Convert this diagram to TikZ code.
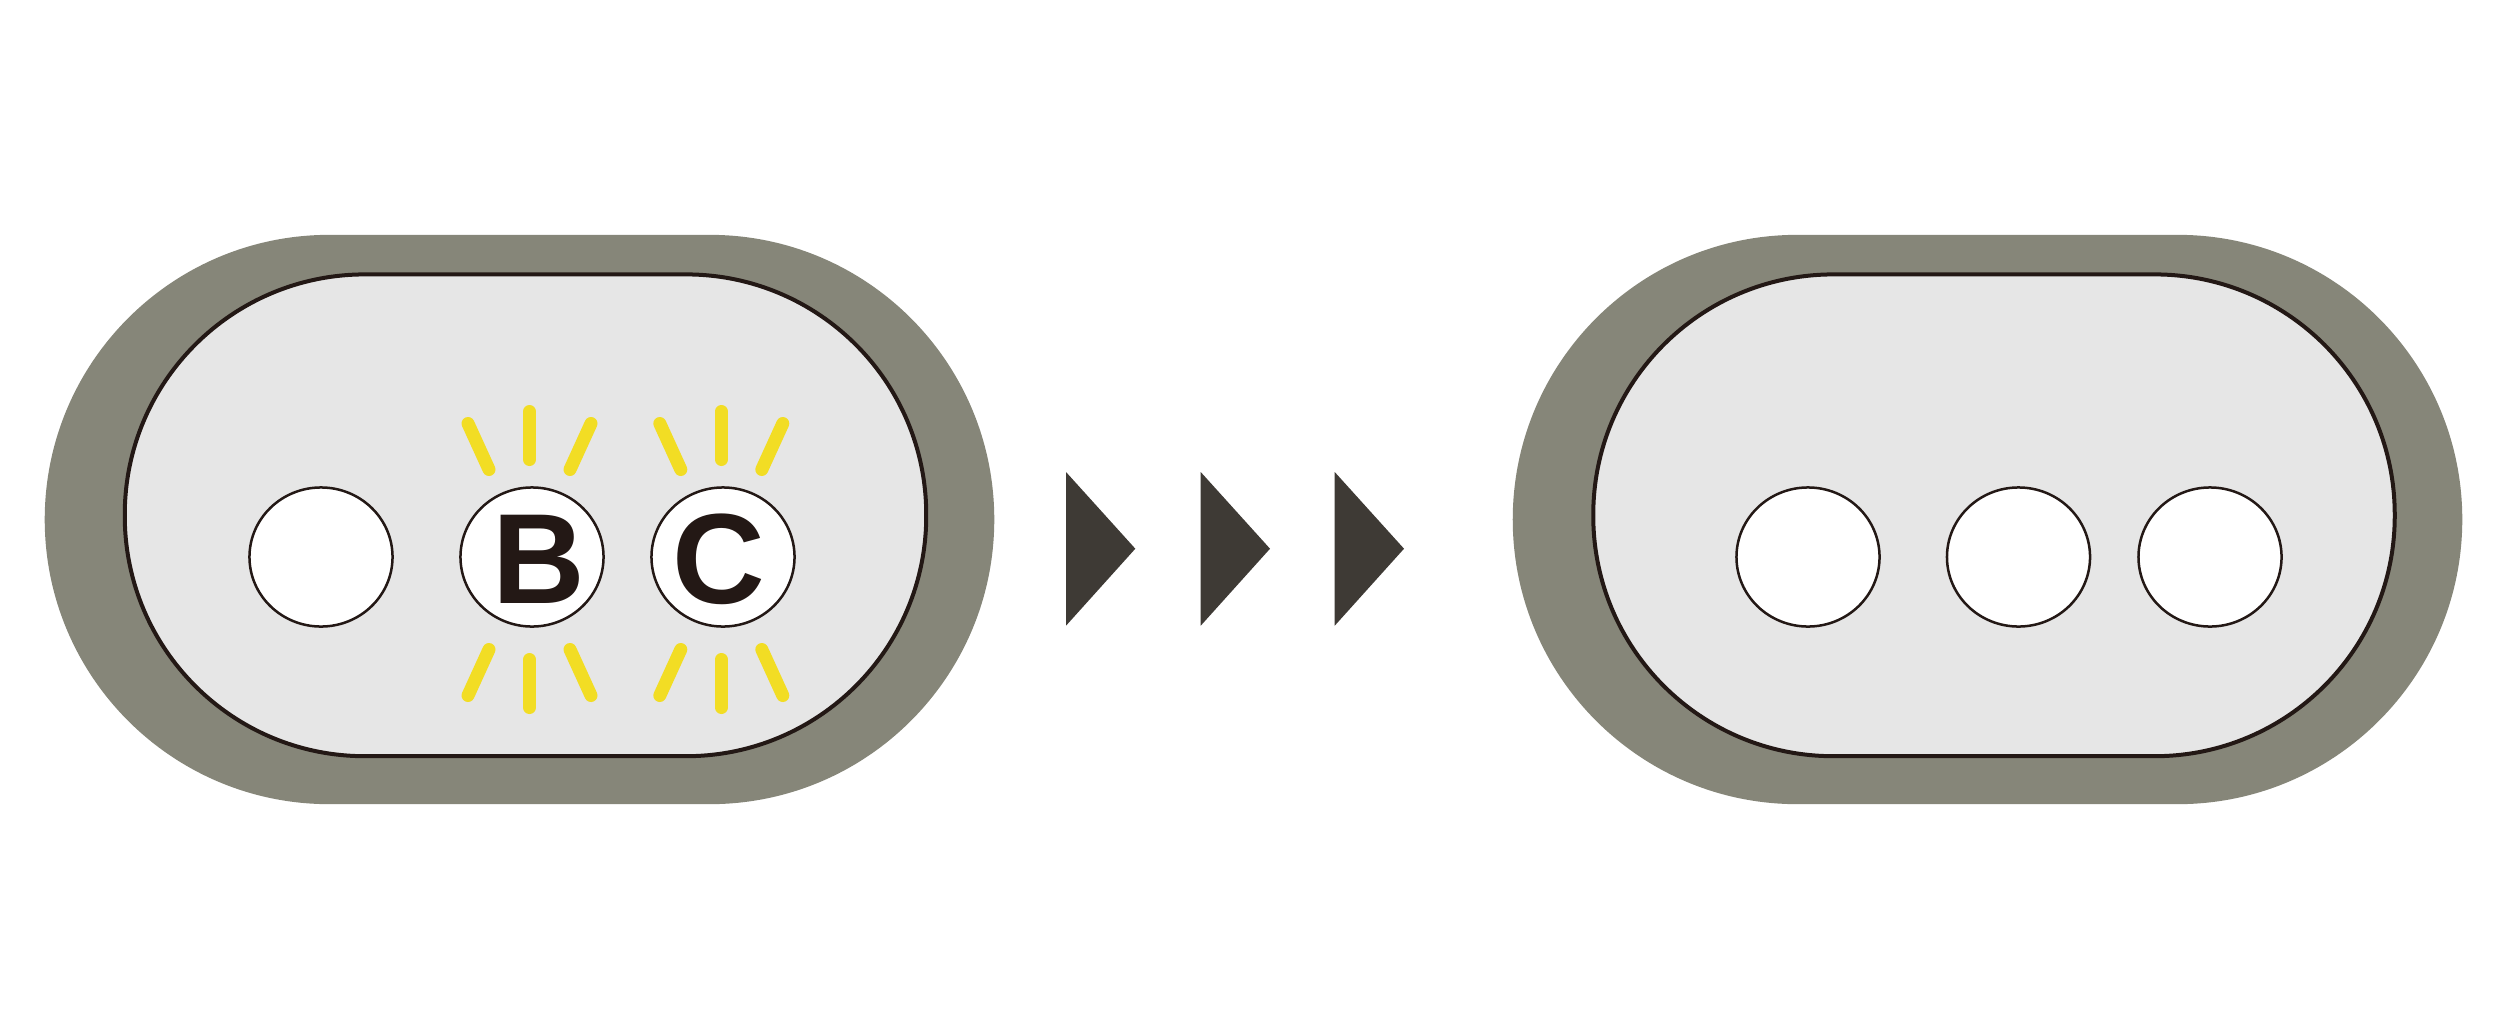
\documentclass[tikz,border=0pt]{standalone}
\usepackage{fontspec}
\setmainfont{Liberation Sans}
\usetikzlibrary{shapes.geometric}
\definecolor{casegray}{RGB}{134,134,121}
\definecolor{panelgray}{RGB}{230,230,230}
\definecolor{inkblack}{RGB}{35,24,21}
\definecolor{arrowdark}{RGB}{62,58,53}
\definecolor{glowyellow}{RGB}{242,221,36}
\newcommand{\glow}[2] % x in px, y in px (centre of the rays)
{
	% vertical rays
	\draw[ray] (#1,#2-148) -- (#1,#2-100);
	\draw[ray] (#1,#2+100) -- (#1,#2+148);
	% slanted rays above
	\draw[ray] (#1-61.5,#2-136) -- (#1-40.5,#2-90);
	\draw[ray] (#1+61.5,#2-136) -- (#1+40.5,#2-90);
	% slanted rays below
	\draw[ray] (#1-61.5,#2+136) -- (#1-40.5,#2+90);
	\draw[ray] (#1+61.5,#2+136) -- (#1+40.5,#2+90);
}
\newcommand{\chevron}[1] % left edge x in px
{
	\fill[arrowdark] (#1,472) -- (#1+69.3,548.7) -- (#1,625.7) -- cycle;
}

\begin{document}
\begin{tikzpicture}[x=0.01cm, y=-0.01cm,
	case/.style={rectangle, fill=casegray, rounded corners=2.845cm, minimum width=9.49cm, minimum height=5.69cm, inner sep=0pt},
	panel/.style={rectangle, fill=panelgray, draw=inkblack, line width=0.04cm, rounded corners=2.4cm, minimum width=8.01cm, minimum height=4.815cm, inner sep=0pt},
	lamp/.style={ellipse, fill=white, draw=inkblack, line width=0.025cm, minimum width=1.43cm, minimum height=1.39cm, inner sep=0pt},
	letter/.style={inner sep=0pt, text=inkblack, font=\fontsize{36.5pt}{40pt}\selectfont\bfseries},
	ray/.style={draw=glowyellow, line width=0.13cm, line cap=round}]
	% page: 2497px x 1024px
	\path[use as bounding box, fill=white] (0,0) rectangle (2497,1024);

	% left unit: two lamps lit
	\node[case] (caseL) at (519.5,519.5) {};
	\node[panel] (panelL) at (525.5,515.3) {};
	\node[lamp] (lampA) at (321,557) {};
	\node[lamp] (lampB) at (532,557) {};
	\node[lamp] (lampC) at (723,557) {};
	\node[letter, xshift=0.07cm, yshift=-0.02cm] (textB) at (lampB) {B};
	\node[letter, xshift=-0.04cm, yshift=-0.02cm] (textC) at (lampC) {C};
	\glow{529.5}{559.5};
	\glow{721.3}{559.5};

	% three arrow heads
	\chevron{1066};
	\chevron{1200.7};
	\chevron{1334.7};

	% right unit: all lamps off
	\node[case] (caseR) at (1987.5,519.5) {};
	\node[panel] (panelR) at (1994,515.3) {};
	\node[lamp] (lampD) at (1808,557) {};
	\node[lamp] (lampE) at (2018.5,557) {};
	\node[lamp] (lampF) at (2210,557) {};
\end{tikzpicture}
\end{document}
